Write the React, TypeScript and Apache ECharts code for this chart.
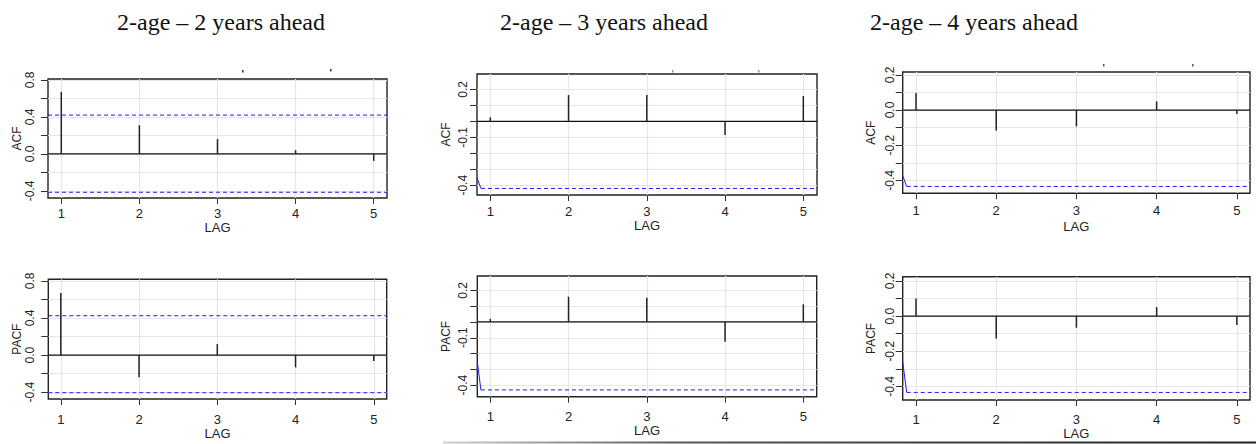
import React, { useEffect, useRef } from "react";
import * as echarts from "echarts";

const lags = [1, 2, 3, 4, 5];
const titles = ["2-age – 2 years ahead", "2-age – 3 years ahead", "2-age – 4 years ahead"];
const yNames = ["ACF", "ACF", "ACF", "PACF", "PACF", "PACF"];
const xName = "LAG";

const acf2 = [0.67, 0.31, 0.16, 0.04, -0.075];
const acf3 = [0.025, 0.164, 0.164, -0.086, 0.158];
const acf4 = [0.097, -0.116, -0.093, 0.049, -0.023];
const pacf2 = [0.67, -0.24, 0.118, -0.133, -0.065];
const pacf3 = [0.02, 0.16, 0.154, -0.125, 0.112];
const pacf4 = [0.1, -0.127, -0.066, 0.051, -0.051];

const ticksWide = [-0.4, -0.2, 0, 0.2, 0.4, 0.6, 0.8];
const labelsWide = [-0.4, 0, 0.4, 0.8];
const ticksNarrow = [-0.4, -0.3, -0.2, -0.1, 0, 0.1, 0.2];
const labelsMid = [-0.4, -0.1, 0.2];
const labelsRight = [-0.4, -0.2, 0, 0.2];

// confidence bounds (null = not drawn)
const confUpper = [0.42, null, null, 0.424, null, null];
const confLower = [-0.414, -0.42, -0.434, -0.406, -0.43, -0.434];
const slantStart = [null, -0.354, -0.373, null, -0.251, -0.26];
const slantEndLag = [null, 0.881, 0.884, null, 0.88, 0.884];

const values = [acf2, acf3, acf4, pacf2, pacf3, pacf4];
const tickSets = [ticksWide, ticksNarrow, ticksNarrow, ticksWide, ticksNarrow, ticksNarrow];
const labelSets = [labelsWide, labelsMid, labelsRight, labelsWide, labelsMid, labelsRight];

// layout per panel
const panels = [
  { left: 48, top: 79, width: 339, height: 119, xMin: 0.83, xMax: 5.17, yMin: -0.476, yMax: 0.81, yLab: 12, yGap: 25, xLab: 9, xGap: 19 },
  { left: 477, top: 74, width: 340, height: 121, xMin: 0.83, xMax: 5.175, yMin: -0.461, yMax: 0.296, yLab: 8, yGap: 25, xLab: 10, xGap: 21 },
  { left: 902.7, top: 72, width: 347.3, height: 121.3, xMin: 0.834, xMax: 5.164, yMin: -0.473, yMax: 0.216, yLab: 7, yGap: 26, xLab: 11, xGap: 27 },
  { left: 48.3, top: 279.3, width: 338.4, height: 119.7, xMin: 0.84, xMax: 5.165, yMin: -0.474, yMax: 0.817, yLab: 12, yGap: 25, xLab: 14, xGap: 26 },
  { left: 477.3, top: 276, width: 339.4, height: 120.7, xMin: 0.834, xMax: 5.171, yMin: -0.473, yMax: 0.291, yLab: 8, yGap: 25, xLab: 13, xGap: 26 },
  { left: 902.7, top: 276.7, width: 347.3, height: 123.3, xMin: 0.834, xMax: 5.164, yMin: -0.477, yMax: 0.224, yLab: 7, yGap: 26, xLab: 13, xGap: 27 },
];

const titleX = [216, 599, 969];

const BLUE = "#1a1aff";
const SANS = "Liberation Sans, Arial, sans-serif";

export default function App() {
  const ref = useRef<HTMLDivElement>(null);
  useEffect(() => {
    if (!ref.current) return;
    const chart = echarts.init(ref.current, undefined, { renderer: "svg" });

    const grids = panels.map((p) => ({
      left: p.left,
      top: p.top,
      width: p.width,
      height: p.height,
      show: true,
      borderColor: "#222",
      borderWidth: 1.4,
      backgroundColor: "transparent",
    }));

    const xAxes = panels.map((p, i) => ({
      type: "value",
      gridIndex: i,
      min: p.xMin,
      max: p.xMax,
      name: xName,
      nameLocation: "middle",
      nameGap: p.xGap,
      nameTextStyle: { fontFamily: SANS, fontSize: 13, color: "#222" },
      axisLine: { show: false, onZero: false },
      axisTick: { show: true, customValues: lags, length: 6, lineStyle: { color: "#333", width: 1 } },
      axisLabel: {
        customValues: lags,
        margin: p.xLab,
        fontFamily: SANS,
        fontSize: 13,
        color: "#222",
        formatter: (v: number) => String(v),
      },
      splitLine: { show: true, lineStyle: { color: "#e6e6e6", width: 1.2 } },
    }));

    const yAxes = panels.map((p, i) => ({
      type: "value",
      gridIndex: i,
      min: p.yMin,
      max: p.yMax,
      name: yNames[i],
      nameLocation: "middle",
      nameGap: p.yGap,
      nameRotate: 90,
      nameTextStyle: { fontFamily: SANS, fontSize: 12, color: "#222" },
      axisLine: { show: false, onZero: false },
      axisTick: { show: true, customValues: tickSets[i], length: 7, lineStyle: { color: "#333", width: 1 } },
      axisLabel: {
        customValues: labelSets[i],
        rotate: 90,
        margin: p.yLab,
        fontFamily: SANS,
        fontSize: 12,
        color: "#222",
        formatter: (v: number) => v.toFixed(1),
      },
      splitLine: { show: true, lineStyle: { color: "#e6e6e6", width: 1.2 } },
    }));

    const hline = (i: number, x0: number, x1: number, v: number, color: string, type: any, width: number, z: number) => ({
      type: "line",
      xAxisIndex: i,
      yAxisIndex: i,
      data: [
        [x0, v],
        [x1, v],
      ],
      symbol: "none",
      silent: true,
      z,
      lineStyle: { color, width, type },
    });

    const series: any[] = [];
    panels.forEach((p, i) => {
      series.push(hline(i, p.xMin, p.xMax, 0, "#111", "solid", 1.2, 2));
      if (confUpper[i] !== null) {
        series.push(hline(i, p.xMin, p.xMax, confUpper[i] as number, BLUE, [4, 3], 1, 2));
      }
      if (slantStart[i] === null) {
        series.push(hline(i, p.xMin, p.xMax, confLower[i], BLUE, [4, 3], 1, 2));
      } else {
        series.push({
          type: "line",
          xAxisIndex: i,
          yAxisIndex: i,
          data: [
            [p.xMin, slantStart[i]],
            [slantEndLag[i], confLower[i]],
          ],
          symbol: "none",
          silent: true,
          z: 2,
          lineStyle: { color: BLUE, width: 1, type: "solid" },
        });
        series.push(hline(i, slantEndLag[i] as number, p.xMax, confLower[i], BLUE, [4, 3], 1, 2));
      }
      series.push({
        type: "bar",
        xAxisIndex: i,
        yAxisIndex: i,
        data: lags.map((l, k) => [l, values[i][k]]),
        barWidth: 1.5,
        itemStyle: { color: "#222" },
        silent: true,
        z: 3,
      });
    });

    const specks = [
      [242, 70, "#333"],
      [330, 69, "#333"],
      [672, 70, "#999"],
      [758, 70, "#999"],
      [1103, 64, "#555"],
      [1192, 64, "#555"],
    ];

    chart.setOption({
      animation: false,
      backgroundColor: "#fff",
      title: titles.map((t, i) => ({
        text: t,
        left: titleX[i],
        top: 5,
        textAlign: "center",
        textStyle: {
          fontFamily: "Liberation Serif, Times New Roman, serif",
          fontSize: 24,
          fontWeight: "normal",
          color: "#111",
        },
      })),
      grid: grids,
      xAxis: xAxes,
      yAxis: yAxes,
      series,
      graphic: [
        ...specks.map((s) => ({
          type: "rect",
          shape: { x: s[0] as number, y: s[1] as number, width: 1.5, height: 2.5 },
          style: { fill: s[2] as string },
          silent: true,
        })),
        {
          type: "rect",
          shape: { x: 443, y: 441.5, width: 813, height: 2 },
          style: {
            fill: new echarts.graphic.LinearGradient(0, 0, 1, 0, [
              { offset: 0, color: "#d0d0d0" },
              { offset: 0.3, color: "#555" },
              { offset: 1, color: "#222" },
            ]),
          },
          silent: true,
        },
      ],
    });
    return () => chart.dispose();
  }, []);
  return (
    <div
      ref={ref}
      style={{ position: "fixed", left: 0, top: 0, width: 1256, height: 444 }}
    />
  );
}
